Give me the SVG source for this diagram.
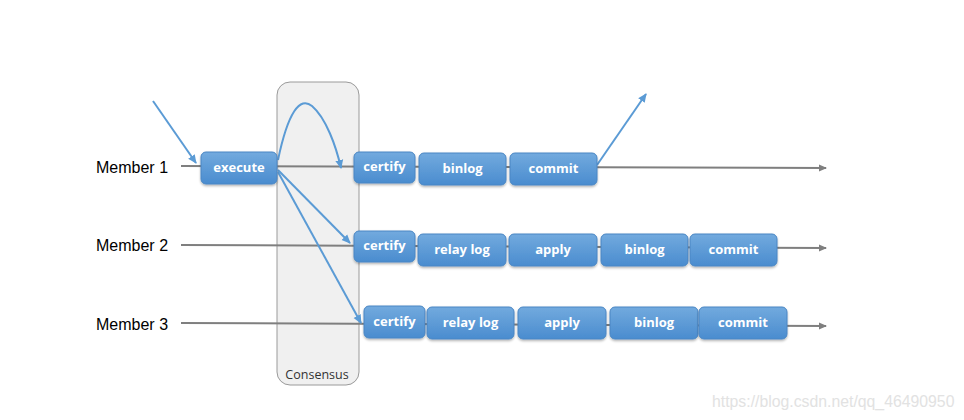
<svg xmlns="http://www.w3.org/2000/svg" width="964" height="420" viewBox="0 0 964 420">
<style>
.lbl{font-family:"Liberation Sans",Arial,sans-serif;font-size:16px;fill:#000}
.nt{font-family:"Open Sans","Liberation Sans",sans-serif;font-size:13px;font-weight:bold;fill:#fff;text-anchor:middle}
.gl{stroke:#7f7f7f;stroke-width:2;fill:none}
.bl{stroke:#5b9bd5;stroke-width:2;fill:none}
.nd{fill:url(#g);stroke:#4a86c4;stroke-width:1;filter:url(#sh)}
</style>
<defs>
<linearGradient id="g" x1="0" y1="0" x2="0" y2="1">
<stop offset="0" stop-color="#72aade"/>
<stop offset="1" stop-color="#4a8ccf"/>
</linearGradient>
<filter id="sh" x="-20%" y="-30%" width="140%" height="170%">
<feDropShadow dx="0" dy="1.5" stdDeviation="1.2" flood-color="#000" flood-opacity="0.3"/>
</filter>
<marker id="ag" markerWidth="8" markerHeight="8" refX="7" refY="4" orient="auto" markerUnits="userSpaceOnUse">
<path d="M0,0.5 L8,4 L0,7.5 Z" fill="#7f7f7f"/>
</marker>
<marker id="ab" markerWidth="9" markerHeight="9" refX="8" refY="4.5" orient="auto" markerUnits="userSpaceOnUse">
<path d="M0,0.5 L9,4.5 L0,8.5 Z" fill="#5b9bd5"/>
</marker>
</defs>
<rect width="964" height="420" fill="#fff"/>
<g id="consensus">
<rect x="277" y="82" width="82" height="303" rx="13" fill="#f0f0f0" stroke="#9a9a9a" stroke-width="1"/>
<text x="317" y="379" text-anchor="middle" font-family="Open Sans,Liberation Sans,sans-serif" font-size="12.5" fill="#333">Consensus</text>
</g>
<g id="labels">
<text class="lbl" x="96" y="173">Member 1</text>
<text class="lbl" x="96" y="251">Member 2</text>
<text class="lbl" x="96" y="330">Member 3</text>
</g>
<g id="connectors">
<path class="gl" d="M181,166 L826,168" marker-end="url(#ag)"/>
<path class="gl" d="M181,245 L826,248" marker-end="url(#ag)"/>
<path class="gl" d="M181,323 L826,326" marker-end="url(#ag)"/>
<path class="bl" d="M153,101 L196,163" marker-end="url(#ab)"/>
<path class="bl" d="M278,160 C288,112 300,96 312,106 C326,118 336,146 341,168" marker-end="url(#ab)"/>
<path class="bl" d="M278,170 L350,243" marker-end="url(#ab)"/>
<path class="bl" d="M278,172 L361,323" marker-end="url(#ab)"/>
<path class="bl" d="M597,165 L646,94" marker-end="url(#ab)"/>
</g>
<g id="n-execute"><rect class="nd" x="201" y="152" width="76" height="32" rx="5"/><text class="nt" x="239" y="172">execute</text></g>
<g id="n1-certify"><rect class="nd" x="354" y="152" width="61" height="31" rx="5"/><text class="nt" x="384.5" y="171">certify</text></g>
<g id="n1-binlog"><rect class="nd" x="419" y="153" width="87" height="32" rx="5"/><text class="nt" x="462.5" y="173">binlog</text></g>
<g id="n1-commit"><rect class="nd" x="510" y="153" width="87" height="32" rx="5"/><text class="nt" x="553.5" y="173">commit</text></g>
<g id="n2-certify"><rect class="nd" x="354" y="231" width="61" height="31" rx="5"/><text class="nt" x="384.5" y="250">certify</text></g>
<g id="n2-relaylog"><rect class="nd" x="418" y="234" width="88" height="32" rx="5"/><text class="nt" x="462" y="254">relay log</text></g>
<g id="n2-apply"><rect class="nd" x="509" y="234" width="88" height="32" rx="5"/><text class="nt" x="553" y="254">apply</text></g>
<g id="n2-binlog"><rect class="nd" x="601" y="234" width="87" height="32" rx="5"/><text class="nt" x="644.5" y="254">binlog</text></g>
<g id="n2-commit"><rect class="nd" x="690" y="234" width="87" height="32" rx="5"/><text class="nt" x="733.5" y="254">commit</text></g>
<g id="n3-certify"><rect class="nd" x="364" y="306" width="61" height="32" rx="5"/><text class="nt" x="394.5" y="326">certify</text></g>
<g id="n3-relaylog"><rect class="nd" x="427" y="307" width="87" height="32" rx="5"/><text class="nt" x="470.5" y="327">relay log</text></g>
<g id="n3-apply"><rect class="nd" x="518" y="307" width="88" height="32" rx="5"/><text class="nt" x="562" y="327">apply</text></g>
<g id="n3-binlog"><rect class="nd" x="610" y="307" width="88" height="32" rx="5"/><text class="nt" x="654" y="327">binlog</text></g>
<g id="n3-commit"><rect class="nd" x="699" y="307" width="88" height="32" rx="5"/><text class="nt" x="743" y="327">commit</text></g>
<text x="712" y="407" font-family="Liberation Sans,Arial,sans-serif" font-size="15.8" fill="#e2e2e2">https://blog.csdn.net/qq_46490950</text>
</svg>
